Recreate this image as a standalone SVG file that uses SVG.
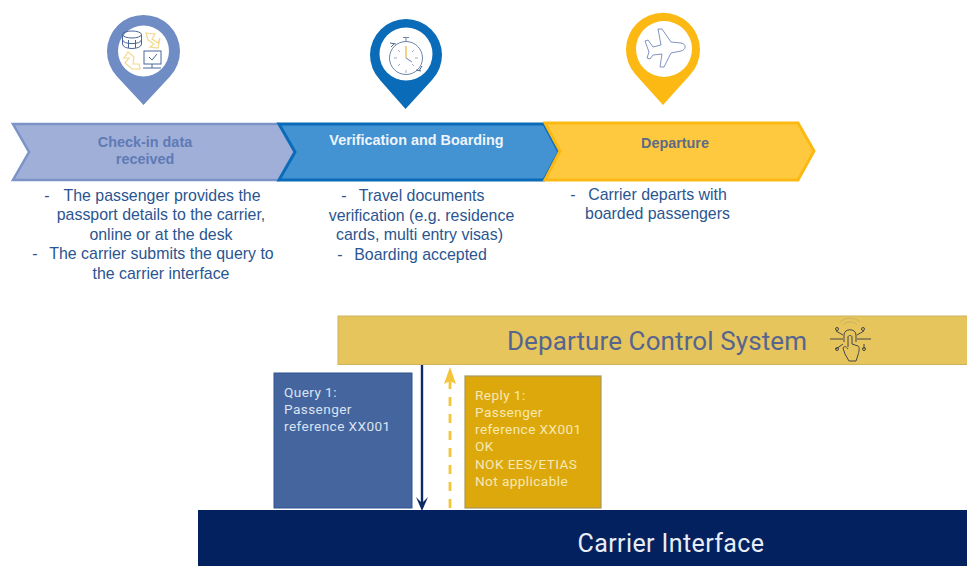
<svg xmlns="http://www.w3.org/2000/svg" width="967" height="566" viewBox="0 0 967 566">
<style>
.body{font-family:"Liberation Sans",Arial,sans-serif;font-size:15.9px;fill:#2a5590;text-anchor:middle}
.dash{font-family:"Liberation Sans",Arial,sans-serif;font-size:15.9px;fill:#2a5590;text-anchor:middle}
.head{font-family:"Liberation Sans",Arial,sans-serif;font-size:14.4px;font-weight:bold;text-anchor:middle}
.box{font-family:Roboto,"Liberation Sans",sans-serif;font-size:13.6px;letter-spacing:.42px}
.ic{fill:none;stroke:#4a6699;stroke-width:1}
.icy{fill:none;stroke:#f4d98c;stroke-width:1.2}
</style>
<rect width="967" height="566" fill="#fff"/>

<g id="pin-checkin">
<path d="M143.500 105L117 76.500A36.500 36.500 0 1 1 170 76.500Z" fill="#6f8cc4"/>
<circle cx="143.500" cy="51" r="25.500" fill="#fff"/>
<ellipse class="ic" cx="132" cy="34.500" rx="9.500" ry="3.500"/>
<path class="ic" d="M122.500 34.500V44C122.500 50 141.500 50 141.500 44V34.500M122.500 39.500C122.500 45 141.500 45 141.500 39.500M128.500 40V48M135.500 40V48"/>
<rect class="ic" x="144" y="51" width="17" height="13"/>
<path class="ic" d="M149 57L152 60L157 54M143 68H161M152 64V68"/>
<path class="icy" d="M146 33L155 34L152 39L158 43L160 38L158 48L150 47L154 44L148 40Z"/>
<path class="icy" d="M128 52L124 58L129 58L125 63L132 69L140 69L139 64L133 64L134 57Z"/>
</g>
<g id="pin-verification">
<path d="M405.500 109L380 80A36 36 0 1 1 432 80Z" fill="#0a6cb8"/>
<circle cx="406" cy="54" r="26.500" fill="#fff"/>
<circle cx="406" cy="58" r="16.500" fill="none" stroke="#6f84a8" stroke-width="1"/>
<path d="M406 38V41M403 37.500H409" fill="none" stroke="#6f84a8" stroke-width="1"/>
<path d="M406 58V46" stroke="#ecc65a" stroke-width="1.500" fill="none"/>
<path d="M406 58L412 62" stroke="#6f84a8" stroke-width="1" fill="none"/>
<path d="M391 47L394 44M390 43L396 44M419 71L422 66M416 70L421 71" stroke="#4a6699" stroke-width="1" fill="none"/>
<path d="M394 58H397M415 58H418M406 70V73M398 50L400 52M414 50L412 52M398 66L400 64M414 66L412 64" stroke="#9aabc4" stroke-width="1" fill="none"/>
</g>
<g id="pin-departure">
<path d="M663 105L636 75A37 37 0 1 1 690 75Z" fill="#fdb913"/>
<circle cx="664" cy="49" r="28" fill="#fff"/>
<path d="M658 29H662L671 42L681 43C687 44 686 50 681 51L671 53L664 67L660 67L662 54L653 55L650 59L647 58L649 52L645 41L648 40L653 47L661 45Z" fill="none" stroke="#6478b0" stroke-width=".8"/>
</g>

<g id="step-checkin">
<path d="M13 124H279L295 152L279 180H13L29 152Z" fill="#9fafd8" stroke="#7b94c8" stroke-width="2.500"/>
<text class="head" fill="#5f7ab4" x="145" y="147">Check-in data</text>
<text class="head" fill="#5f7ab4" x="145" y="164">received</text>
<text class="dash" x="47" y="201">-</text><text class="body" x="162" y="201">The passenger provides the</text>
<text class="body" x="161" y="220">passport details to the carrier,</text>
<text class="body" x="161" y="240">online or at the desk</text>
<text class="dash" x="35" y="259">-</text><text class="body" x="161.500" y="259">The carrier submits the query to</text>
<text class="body" x="161" y="279">the carrier interface</text>
</g>
<g id="step-verification">
<path d="M279 124H544L559 152L544 180H279L295 152Z" fill="#4392d2" stroke="#0a6cb8" stroke-width="3"/>
<text class="head" fill="#eef4fa" x="416.500" y="145">Verification and Boarding</text>
<text class="dash" x="344" y="201">-</text><text class="body" x="421.500" y="201">Travel documents</text>
<text class="body" x="421.500" y="221">verification (e.g. residence</text>
<text class="body" x="419.500" y="240">cards, multi entry visas)</text>
<text class="dash" x="340" y="260">-</text><text class="body" x="420.500" y="260">Boarding accepted</text>
</g>
<g id="step-departure">
<path d="M545 123H798L814 151L798 180H545L560 151Z" fill="#ffc93f" stroke="#fdb913" stroke-width="3"/>
<text class="head" fill="#5e6a86" x="675" y="148">Departure</text>
<text class="dash" x="573" y="200">-</text><text class="body" x="657.500" y="200">Carrier departs with</text>
<text class="body" x="657.500" y="219">boarded passengers</text>
</g>

<g id="departure-control-system">
<rect x="338" y="316" width="630" height="48.500" fill="#e6c55c" stroke="#cdb35c" stroke-width="1"/>
<text x="657" y="350" font-family="Roboto,'Liberation Sans',sans-serif" font-size="26px" fill="#56658f" text-anchor="middle" letter-spacing=".1">Departure Control System</text>
<g fill="none" stroke="#46474a" stroke-width="1">
<path d="M844 342V335C844 328 856 328 856 335V342"/>
<path d="M830 339H843M857 339H871M836 331L843 335M864 331L857 335M836 349L843 344M864 349V344"/>
<path d="M848 347V337C848 335 852 335 852 337V344L858 346C860 347 859 352 858 355L856 361H849L845 354L843 348C844 346 846 346 848 349"/>
<circle cx="837" cy="329" r="1.500"/><circle cx="863" cy="329" r="1.500"/><circle cx="837" cy="349" r="1.500"/><circle cx="864" cy="349" r="1.500"/>
<path d="M843 325C846 321 854 321 857 325M840 322C845 317 855 317 860 322" stroke="#cdb35c"/>
</g>
</g>
<g id="query-box">
<rect x="274" y="373" width="138" height="135" fill="#45659f" stroke="#2f5591" stroke-width="1"/>
<text class="box" fill="#dbe3f0"><tspan x="284" y="397">Query 1:</tspan><tspan x="284" y="414">Passenger</tspan><tspan x="284" y="431">reference XX001</tspan></text>
</g>
<g id="reply-box">
<rect x="465" y="376" width="136" height="132" fill="#dca80c" stroke="#a89a5c" stroke-width="1.200"/>
<text class="box" fill="#f7e8b4"><tspan x="475" y="400">Reply 1:</tspan><tspan x="475" y="417">Passenger</tspan><tspan x="475" y="434">reference XX001</tspan><tspan x="475" y="451">OK</tspan><tspan x="475" y="469">NOK EES/ETIAS</tspan><tspan x="475" y="486">Not applicable</tspan></text>
</g>
<g id="carrier-interface">
<rect x="198" y="510" width="769" height="56" fill="#03215f"/>
<text x="671" y="552" font-family="Roboto,'Liberation Sans',sans-serif" font-size="25px" fill="#e8edf5" text-anchor="middle" letter-spacing=".4">Carrier Interface</text>
</g>

<g id="connectors">
<path d="M422 365V505" fill="none" stroke="#0c2a63" stroke-width="2.400"/>
<path d="M416 497L422 503L428 497L422 511Z" fill="#0c2a63"/>
<path d="M450 508V381" fill="none" stroke="#f4c53a" stroke-width="2.800" stroke-dasharray="9 8"/>
<path d="M450 367L456 384L450 381L444 384Z" fill="#f4c53a"/>
</g>
</svg>
